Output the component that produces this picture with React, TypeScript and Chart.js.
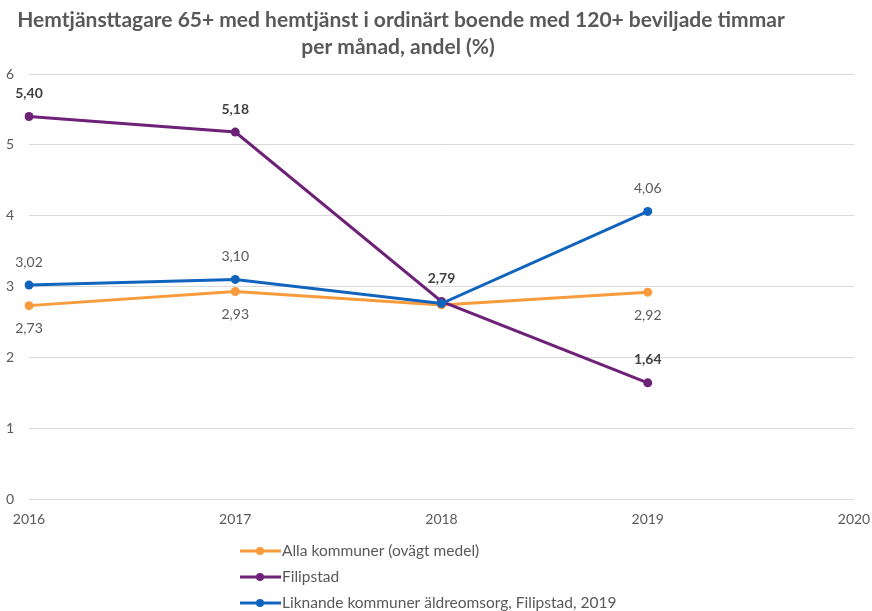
import React, { useEffect, useRef } from "react";
import { Chart, registerables } from "chart.js";

Chart.register(...registerables);

const years = ["2016", "2017", "2018", "2019", "2020"];
const seriesNames = [
  "Alla kommuner (ovägt medel)",
  "Filipstad",
  "Liknande kommuner äldreomsorg, Filipstad, 2019",
];
const allaKommuner = [2.73, 2.93, 2.74, 2.92];
const filipstad = [5.4, 5.18, 2.79, 1.64];
const liknande = [3.02, 3.1, 2.76, 4.06];
const yTicks = [0, 1, 2, 3, 4, 5, 6];
const titleLines = [
  "Hemtjänsttagare 65+ med hemtjänst i ordinärt boende med 120+ beviljade timmar",
  "per månad, andel (%)",
];

// which points get a value label: 'a' above, 'b' below, '' none
const allaLabels = ["b", "b", "", "b"];
const filipstadLabels = ["a", "a", "a", "a"];
const liknandeLabels = ["a", "a", "", "a"];

const colors = ["#F79B3C", "#6E2277", "#1164BE"];
const FONT = "Lato, 'Open Sans', sans-serif";

export default function App() {
  const ref = useRef<HTMLCanvasElement | null>(null);

  useEffect(() => {
    if (!ref.current) return;
    const labelSets = [allaLabels, filipstadLabels, liknandeLabels];
    const boldSet = [false, true, false];

    const titlePlugin = {
      id: "customTitle",
      afterDraw(chart: any) {
        const ctx = chart.ctx;
        ctx.save();
        ctx.fillStyle = "#595959";
        ctx.font = `bold 21px ${FONT}`;
        ctx.textAlign = "center";
        ctx.textBaseline = "middle";
        ctx.fillText(titleLines[0], 401, 20);
        ctx.fillText(titleLines[1], 398, 47);
        ctx.restore();
      },
    };

    const dataLabelPlugin = {
      id: "valueLabels",
      afterDatasetsDraw(chart: any) {
        const ctx = chart.ctx;
        ctx.save();
        ctx.textAlign = "center";
        ctx.textBaseline = "middle";
        chart.data.datasets.forEach((ds: any, di: number) => {
          const meta = chart.getDatasetMeta(di);
          meta.data.forEach((pt: any, i: number) => {
            const pos = labelSets[di][i];
            const v = ds.data[i];
            if (!pos || v == null) return;
            ctx.font = `${boldSet[di] ? "bold " : ""}14px ${FONT}`;
            ctx.fillStyle = boldSet[di] ? "#404040" : "#595959";
            const dy = pos === "a" ? -23 : 23;
            ctx.fillText(v.toFixed(2).replace(".", ","), pt.x, pt.y + dy);
          });
        });
        ctx.restore();
      },
    };

    const legendPlugin = {
      id: "customLegend",
      afterDraw(chart: any) {
        const ctx = chart.ctx;
        ctx.save();
        const rowsY = [551, 577, 603];
        seriesNames.forEach((name, i) => {
          const y = rowsY[i];
          ctx.strokeStyle = colors[i];
          ctx.lineWidth = 3;
          ctx.beginPath();
          ctx.moveTo(240, y);
          ctx.lineTo(281, y);
          ctx.stroke();
          ctx.fillStyle = colors[i];
          ctx.beginPath();
          ctx.arc(260, y, 4, 0, Math.PI * 2);
          ctx.fill();
          ctx.fillStyle = "#595959";
          ctx.font = `15.5px ${FONT}`;
          ctx.textAlign = "left";
          ctx.textBaseline = "middle";
          ctx.fillText(name, 282, y);
        });
        ctx.restore();
      },
    };

    const mk = (label: string, data: number[], color: string, order: number) => ({
      label,
      data,
      borderColor: color,
      backgroundColor: color,
      borderWidth: 3,
      pointRadius: 4.5,
      pointBorderWidth: 0,
      pointBackgroundColor: color,
      tension: 0,
      order,
    });

    const chart = new Chart(ref.current, {
      type: "line",
      data: {
        labels: years,
        datasets: [
          mk(seriesNames[0], allaKommuner, colors[0], 3),
          mk(seriesNames[1], filipstad, colors[1], 2),
          mk(seriesNames[2], liknande, colors[2], 1),
        ],
      },
      options: {
        responsive: false,
        animation: false,
        devicePixelRatio: 1,
        layout: { padding: { top: 74, left: 0, right: 18, bottom: 72 } },
        plugins: {
          legend: { display: false },
          title: { display: false },
          tooltip: { enabled: false },
        },
        scales: {
          x: {
            type: "category",
            offset: false,
            grid: { display: false, drawTicks: false },
            border: { display: false },
            ticks: {
              color: "#595959",
              font: { family: FONT, size: 14 },
              padding: 12,
              maxRotation: 0,
              autoSkip: false,
            },
            afterFit(scale: any) {
              scale.height = 40;
              scale.paddingLeft = 0;
              scale.paddingRight = 0;
            },
          },
          y: {
            min: 0,
            max: 6,
            grid: { color: "#D9D9D9", drawTicks: false, lineWidth: 1 },
            border: { display: false },
            afterBuildTicks(scale: any) {
              scale.ticks = yTicks.map((v) => ({ value: v }));
            },
            ticks: {
              color: "#595959",
              font: { family: FONT, size: 14 },
              padding: 15,
            },
            afterFit(scale: any) {
              scale.width = 29;
              scale.paddingTop = 0;
              scale.paddingBottom = 0;
            },
          },
        },
      },
      plugins: [titlePlugin, dataLabelPlugin, legendPlugin],
    } as any);

    return () => chart.destroy();
  }, []);

  return (
    <div style={{ position: "absolute", left: 0, top: 0, width: 872, height: 611, background: "#fff" }}>
      <canvas ref={ref} width={872} height={611} />
    </div>
  );
}
